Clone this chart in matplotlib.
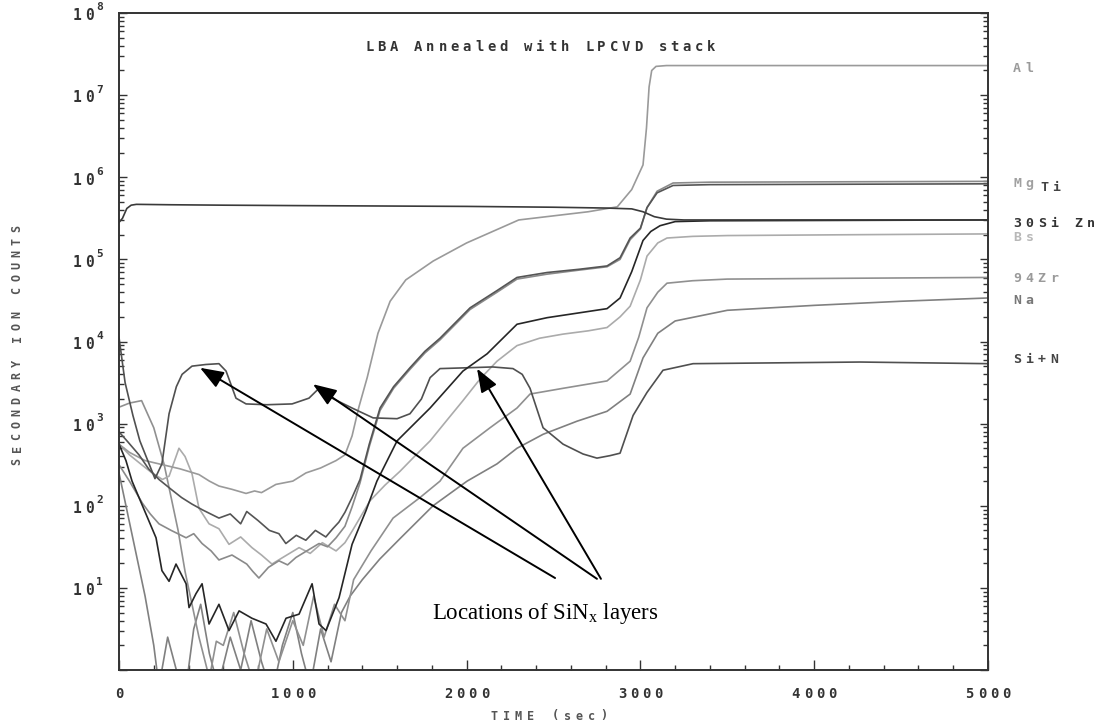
import numpy as np
import matplotlib
matplotlib.use('Agg')
import matplotlib.pyplot as plt
from matplotlib.ticker import LogLocator, MultipleLocator, NullFormatter
from matplotlib.transforms import offset_copy

plt.rcParams['mathtext.fontset'] = 'custom'
plt.rcParams['mathtext.rm'] = 'Liberation Serif'
plt.rcParams['mathtext.it'] = 'Liberation Serif:italic'

# SIMS depth profile: sputter time (sec) vs log10 of secondary ion counts
si30_t = [0, 20, 45, 70, 100, 300, 600, 1000, 1500, 2000, 2500, 2800, 2950, 3015, 3080, 3150, 3250, 4000, 5000]
si30_c = [5.45, 5.5, 5.62, 5.66, 5.67, 5.665, 5.66, 5.655, 5.65, 5.645, 5.635, 5.625, 5.615, 5.58, 5.52, 5.49, 5.48, 5.48, 5.48]

al_t = [0, 60, 150, 250, 350, 460, 520, 575, 650, 731, 780, 820, 903, 1000, 1076, 1160, 1249, 1300, 1341, 1380,
        1428, 1490, 1560, 1650, 1808, 2000, 2193, 2300, 2500, 2700, 2867, 2950, 3015, 3035, 3050, 3065, 3090, 3150, 4000, 5000]
al_c = [2.75, 2.65, 2.55, 2.5, 2.45, 2.38, 2.3, 2.24, 2.2, 2.15, 2.18, 2.16, 2.26, 2.3, 2.4, 2.46, 2.55, 2.62, 2.85, 3.2,
        3.56, 4.1, 4.49, 4.75, 4.98, 5.2, 5.38, 5.48, 5.53, 5.58, 5.64, 5.85, 6.15, 6.6, 7.1, 7.3, 7.35, 7.36, 7.36, 7.36]

zn_t = [0, 40, 75, 115, 155, 213, 247, 288, 328, 386, 403, 443, 478, 518, 575, 633, 691, 765, 846, 903, 961, 1036,
        1111, 1151, 1191, 1266, 1341, 1421, 1484, 1600, 1790, 1979, 2118, 2290, 2463, 2808, 2883, 2950, 3015, 3060,
        3113, 3200, 3400, 5000]
zn_c = [2.75, 2.55, 2.3, 2.1, 1.9, 1.61, 1.21, 1.08, 1.29, 1.05, 0.76, 0.93, 1.05, 0.56, 0.8, 0.48, 0.72, 0.63, 0.56,
        0.35, 0.63, 0.68, 1.05, 0.56, 0.48, 0.88, 1.53, 1.94, 2.3, 2.79, 3.19, 3.64, 3.85, 4.21, 4.29, 4.4, 4.53, 4.85,
        5.23, 5.34, 5.41, 5.46, 5.47, 5.48]

ti_t = [0, 50, 115, 170, 230, 300, 360, 420, 480, 575, 640, 700, 735, 800, 865, 920, 960, 1020, 1075, 1130, 1190,
        1230, 1265, 1300, 1341, 1387, 1440, 1502, 1580, 1674, 1760, 1847, 2020, 2175, 2290, 2463, 2650, 2808, 2883,
        2941, 3000, 3038, 3096, 3188, 3400, 5000]
ti_c = [2.9, 2.78, 2.62, 2.45, 2.32, 2.2, 2.1, 2.02, 1.95, 1.85, 1.9, 1.78, 1.93, 1.82, 1.70, 1.66, 1.54, 1.64, 1.58,
        1.7, 1.62, 1.72, 1.8, 1.92, 2.1, 2.32, 2.75, 3.19, 3.45, 3.68, 3.88, 4.04, 4.41, 4.62, 4.78, 4.84, 4.88, 4.92,
        5.02, 5.26, 5.38, 5.63, 5.81, 5.9, 5.91, 5.92]

mg_t = [0, 60, 135, 180, 230, 300, 386, 430, 478, 530, 575, 650, 735, 770, 805, 860, 920, 970, 1018, 1080, 1151,
        1200, 1249, 1300, 1340, 1387, 1440, 1502, 1580, 1674, 1760, 1847, 2020, 2175, 2290, 2463, 2650, 2808, 2883,
        2941, 3000, 3038, 3096, 3188, 3400, 5000]
mg_c = [2.5, 2.3, 2.03, 1.9, 1.78, 1.7, 1.61, 1.66, 1.54, 1.45, 1.34, 1.4, 1.29, 1.2, 1.12, 1.25, 1.33, 1.28, 1.37,
        1.45, 1.54, 1.5, 1.61, 1.75, 1.98, 2.28, 2.72, 3.16, 3.43, 3.66, 3.86, 4.02, 4.39, 4.60, 4.76, 4.82, 4.87, 4.91,
        5.0, 5.24, 5.37, 5.63, 5.83, 5.93, 5.94, 5.95]

bs_t = [0, 60, 130, 190, 250, 288, 320, 345, 380, 420, 460, 518, 575, 633, 700, 765, 820, 880, 950, 1036, 1100,
        1170, 1249, 1300, 1341, 1444, 1530, 1617, 1700, 1790, 1890, 1979, 2080, 2175, 2290, 2420, 2555, 2700, 2808,
        2883, 2941, 3000, 3038, 3100, 3153, 3300, 3500, 4200, 5000]
bs_c = [2.75, 2.62, 2.5, 2.4, 2.32, 2.36, 2.55, 2.7, 2.6, 2.39, 1.97, 1.78, 1.72, 1.53, 1.62, 1.49, 1.4, 1.29, 1.38,
        1.49, 1.42, 1.55, 1.45, 1.55, 1.69, 2.06, 2.25, 2.42, 2.6, 2.79, 3.05, 3.28, 3.55, 3.76, 3.95, 4.04, 4.09,
        4.13, 4.17, 4.3, 4.43, 4.75, 5.04, 5.2, 5.26, 5.28, 5.29, 5.3, 5.31]

zr_t = [0, 60, 130, 200, 260, 300, 340, 380, 420, 460, 520, 560, 600, 660, 720, 780, 850, 920, 1000, 1060, 1120,
        1180, 1240, 1300, 1350, 1450, 1577, 1732, 1847, 1979, 2135, 2290, 2365, 2555, 2808, 2941, 2990, 3038, 3100,
        3153, 3300, 3500, 4200, 5000]
zr_c = [3.2, 3.25, 3.28, 2.95, 2.5, 2.1, 1.7, 1.2, 0.8, 0.4, -0.1, 0.35, 0.3, 0.7, 0.2, -0.2, 0.5, 0.1, 0.6, 0.3,
        0.9, 0.4, 0.8, 0.6, 1.1, 1.45, 1.85, 2.1, 2.30, 2.70, 2.95, 3.19, 3.36, 3.43, 3.52, 3.76, 4.05, 4.41, 4.6,
        4.71, 4.74, 4.76, 4.77, 4.78]

na_t = [0, 40, 100, 150, 200, 230, 280, 330, 380, 430, 470, 520, 570, 640, 700, 760, 820, 880, 940, 1000, 1050,
        1100, 1160, 1220, 1280, 1330, 1400, 1500, 1617, 1807, 2003, 2175, 2290, 2440, 2636, 2808, 2941, 3015, 3100,
        3200, 3500, 4000, 4500, 5000]
na_c = [2.4, 2.0, 1.4, 0.9, 0.3, -0.2, 0.4, 0.0, -0.3, 0.5, 0.8, 0.2, -0.2, 0.4, 0.0, 0.6, 0.1, -0.3, 0.3, 0.7, 0.2,
        -0.2, 0.5, 0.1, 0.7, 0.9, 1.1, 1.35, 1.6, 2.0, 2.3, 2.51, 2.70, 2.87, 3.03, 3.15, 3.36, 3.8, 4.1, 4.25, 4.38,
        4.44, 4.49, 4.53]

sin_t = [0, 35, 80, 120, 207, 247, 288, 330, 363, 420, 500, 575, 616, 673, 731, 850, 996, 1093, 1151, 1226, 1341,
         1462, 1600, 1674, 1740, 1790, 1847, 2000, 2150, 2267, 2320, 2365, 2440, 2555, 2670, 2750, 2825, 2883, 2958,
         3038, 3130, 3303, 4264, 5000]
sin_c = [4.05, 3.5, 3.1, 2.79, 2.33, 2.51, 3.12, 3.45, 3.6, 3.7, 3.72, 3.73, 3.64, 3.31, 3.24, 3.23, 3.24, 3.31,
         3.43, 3.31, 3.19, 3.07, 3.06, 3.12, 3.3, 3.56, 3.67, 3.68, 3.69, 3.67, 3.6, 3.43, 2.95, 2.75, 2.63, 2.58,
         2.61, 2.64, 3.1, 3.38, 3.65, 3.73, 3.75, 3.73]

# (name, time, log counts, line colour)
species = [
    ('Na', na_t, na_c, '#808080'),
    ('94Zr', zr_t, zr_c, '#909090'),
    ('Bs', bs_t, bs_c, '#ababab'),
    ('Al', al_t, al_c, '#9a9a9a'),
    ('Mg', mg_t, mg_c, '#8a8a8a'),
    ('Ti', ti_t, ti_c, '#555555'),
    ('Si+N', sin_t, sin_c, '#505050'),
    ('Zn', zn_t, zn_c, '#262626'),
    ('30Si', si30_t, si30_c, '#3a3a3a'),
]

# right-hand labels: text, log counts, x offset in px past the frame, colour
end_labels = [
    ('Al', 7.32, 25, '#9a9a9a'),
    ('Mg', 5.92, 25, '#a0a0a0'),
    ('Ti', 5.87, 52, '#444444'),
    ('30Si Zn', 5.44, 25, '#333333'),
    ('Bs', 5.27, 25, '#b8b8b8'),
    ('94Zr', 4.77, 25, '#9a9a9a'),
    ('Na', 4.50, 25, '#777777'),
    ('Si+N', 3.78, 25, '#444444'),
]

W, H = 1099, 726
fig = plt.figure(figsize=(W / 100, H / 100), dpi=100)
ax = fig.add_axes([119 / W, 56 / H, 869 / W, 657 / H])

for name, t, c, col in species:
    ax.plot(t, 10 ** np.array(c), color=col, lw=1.2, solid_joinstyle='round')

ax.set_yscale('log')
ax.set_xlim(0, 5000)
ax.set_ylim(1, 1e8)

ax.xaxis.set_major_locator(MultipleLocator(1000))
ax.xaxis.set_minor_locator(MultipleLocator(200))
ax.yaxis.set_major_locator(LogLocator(base=10, numticks=20))
ax.yaxis.set_minor_locator(LogLocator(base=10, subs=np.arange(2, 10), numticks=100))
ax.yaxis.set_minor_formatter(NullFormatter())
ax.tick_params(which='both', direction='in', labelleft=False, labelbottom=False,
               color='#333333', width=1.0)
ax.tick_params(which='major', length=7)
ax.tick_params(which='minor', length=3.5)
ax.tick_params(axis='y', which='both', right=True)
ax.tick_params(axis='y', which='major', right=True, length=6)
for sp in ax.spines.values():
    sp.set_color('#333333')
    sp.set_linewidth(1.4)

mono = dict(family='DejaVu Sans Mono', fontweight='bold')
PITCH = 8.8  # points between character centres of the plotter font


def spaced(x, y, s, transform, size=10, color='#333333', ha='left', vertical=False):
    n = len(s)
    if ha == 'center':
        start = -(n - 1) / 2 * PITCH
    elif ha == 'right':
        start = -(n - 1) * PITCH
    else:
        start = PITCH * 0.35
    for i, ch in enumerate(s):
        if ch == ' ':
            continue
        d = start + i * PITCH
        if vertical:
            tr = offset_copy(transform, fig=fig, x=0, y=d, units='points')
        else:
            tr = offset_copy(transform, fig=fig, x=d, y=0, units='points')
        fig.text(x, y, ch, transform=tr, ha='center', va='center', fontsize=size,
                 color=color, rotation=90 if vertical else 0, **mono)


# x tick labels
xlab_tr = ax.get_xaxis_transform()
for v in range(0, 5001, 1000):
    tr = offset_copy(xlab_tr, fig=fig, x=0, y=-17, units='points')
    spaced(v, 0, str(v), tr, size=10, ha='center')

# y tick labels 10^n
ylab_tr = ax.get_yaxis_transform()
for p in range(1, 9):
    tr = offset_copy(ylab_tr, fig=fig, x=-26, y=-2, units='points')
    spaced(0, 10.0 ** p, '10', tr, size=10.5, ha='center')
    tr2 = offset_copy(ylab_tr, fig=fig, x=-14, y=4, units='points')
    fig.text(0, 10.0 ** p, str(p), transform=tr2, ha='center', va='center',
             fontsize=8, color='#333333', **mono)

# axis titles and heading
spaced(549 / W, 1 - 716 / H, 'TIME (sec)', fig.transFigure, size=8.5, color='#555555', ha='center')
spaced(17 / W, 1 - 345 / H, 'SECONDARY ION COUNTS', fig.transFigure, size=8.5,
       color='#555555', ha='center', vertical=True)
spaced(365 / W, 1 - 47 / H, 'LBA Annealed with LPCVD stack', fig.transFigure, size=10,
       color='#333333', ha='left')

# element labels beyond the right edge
for txt, lv, dx, col in end_labels:
    tr = offset_copy(ylab_tr, fig=fig, x=dx * 0.72, y=0, units='points')
    spaced(1, 10 ** lv, txt, tr, size=9.5, color=col, ha='left')

# arrows pointing to the nitride layers
arrow = dict(arrowstyle='-|>,head_length=0.8,head_width=0.3', mutation_scale=18,
             color='black', lw=1.4, shrinkA=0, shrinkB=0)
tips = [(466, 10 ** 3.68), (1116, 10 ** 3.48), (2060, 10 ** 3.67)]
tails = [(2509, 10 ** 1.12), (2750, 10 ** 1.11), (2773, 10 ** 1.11)]
for tip, tail in zip(tips, tails):
    ax.annotate('', xy=tip, xytext=tail, arrowprops=arrow)
ax.text(1801, 10 ** 0.69, r'Locations of SiN$_{\mathrm{x}}$ layers', fontsize=16.5,
        family='Liberation Serif', ha='left', va='center', color='black')

fig.savefig('out.png', dpi=100)
